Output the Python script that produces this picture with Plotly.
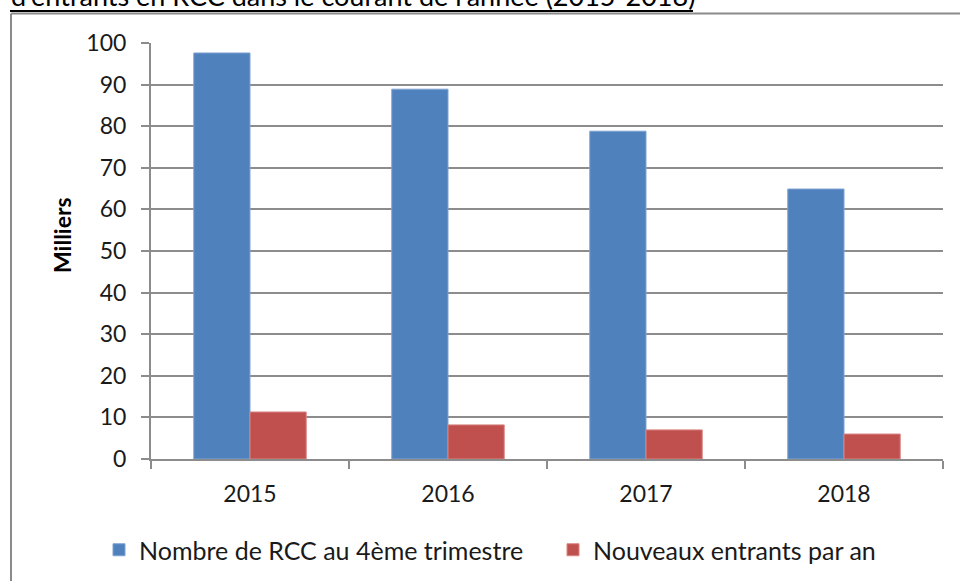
import plotly.graph_objects as go

# Données (en milliers)
annees = ["2015", "2016", "2017", "2018"]
rcc_4e_trimestre = [97.6, 88.9, 78.8, 64.9]
nouveaux_entrants = [11.3, 8.2, 7.0, 6.0]
y_ticks = [0, 10, 20, 30, 40, 50, 60, 70, 80, 90, 100]

W, H = 960, 581
# plot area in pixels
PL, PR, PT, PB = 151, 943, 43, 459


def px_x(p):
    return (p - PL) / (PR - PL)


def px_y(p):
    return (PB - p) / (PB - PT)


BLUE = "#4F81BD"
RED = "#C0504D"
GRID = "#8C8C8C"
FONT = "Lato, 'Open Sans', sans-serif"

fig = go.Figure()
fig.add_trace(go.Bar(
    x=annees, y=rcc_4e_trimestre, name="Nombre de RCC au 4ème trimestre",
    marker=dict(color=BLUE, line=dict(color="#7FA3D3", width=1)),
    legend="legend",
))
fig.add_trace(go.Bar(
    x=annees, y=nouveaux_entrants, name="Nouveaux entrants par an",
    marker=dict(color=RED, line=dict(color="#D98583", width=1)),
    legend="legend2",
))

legend_style = dict(
    orientation="h", xanchor="left", yanchor="middle",
    font=dict(size=25, family=FONT, color="#1a1a1a"),
    bgcolor="rgba(0,0,0,0)",
)

fig.update_layout(
    width=W, height=H,
    margin=dict(l=PL, r=W - PR, t=PT, b=H - PB, pad=0, autoexpand=False),
    paper_bgcolor="white", plot_bgcolor="white",
    barmode="group", bargap=0.432, bargroupgap=0,
    font=dict(family=FONT, color="#1a1a1a", size=23),
    showlegend=True,
    legend=dict(x=px_x(99), y=px_y(550), **legend_style),
    legend2=dict(x=px_x(553), y=px_y(550), **legend_style),
)

fig.update_xaxes(
    type="category", showgrid=False,
    showline=True, linecolor=GRID, linewidth=2,
    ticks="outside", tickson="boundaries", ticklen=8, tickwidth=2, tickcolor=GRID,
    tickfont=dict(size=23, family=FONT, color="#1a1a1a"),
    ticklabelstandoff=13,
)
fig.update_yaxes(
    range=[0, 100], tickvals=y_ticks,
    showgrid=True, gridcolor=GRID, gridwidth=2,
    showline=True, linecolor=GRID, linewidth=2,
    ticks="outside", ticklen=8, tickwidth=2, tickcolor=GRID,
    tickfont=dict(size=23, family=FONT, color="#1a1a1a"),
    ticklabelstandoff=10, zeroline=False,
)

# axis title
fig.add_annotation(
    text="<b>Milliers</b>", textangle=-90, showarrow=False,
    xref="paper", yref="paper", x=px_x(62), y=px_y(235),
    xanchor="center", yanchor="middle",
    font=dict(size=23, family=FONT, color="black"),
)

# heading line above the chart frame (partly outside the page)
fig.add_annotation(
    text="d'entrants en RCC dans le courant de l'année (2015-2018)",
    showarrow=False, xref="paper", yref="paper",
    x=px_x(9), y=px_y(14), xanchor="left", yanchor="bottom",
    font=dict(size=27, family=FONT, color="black"),
)
fig.add_shape(type="line", xref="paper", yref="paper",
              x0=px_x(10), x1=px_x(693), y0=px_y(11), y1=px_y(11),
              line=dict(color="black", width=2))

# chart frame
fig.add_shape(type="line", xref="paper", yref="paper",
              x0=px_x(11), x1=px_x(970), y0=px_y(13.5), y1=px_y(13.5),
              line=dict(color="#8A8A8A", width=2))
fig.add_shape(type="line", xref="paper", yref="paper",
              x0=px_x(11), x1=px_x(11), y0=px_y(13.5), y1=px_y(590),
              line=dict(color="#8A8A8A", width=2))

fig.write_html("out.html")
